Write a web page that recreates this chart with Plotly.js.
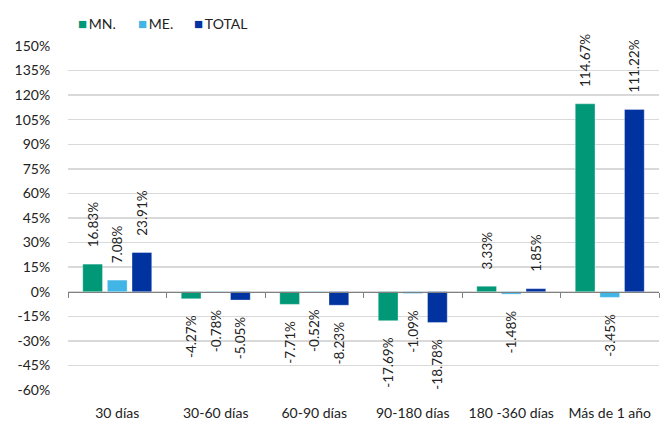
<!DOCTYPE html>
<html>
<head>
<meta charset="utf-8">
<script src="https://cdn.plot.ly/plotly-3.0.1.min.js"></script>
<style>html,body{margin:0;padding:0;background:#fff;}#chart{width:665px;height:425px;}</style>
</head>
<body>
<div id="chart"></div>
<script>
const categories = ["30 días", "30-60 días", "60-90 días", "90-180 días", "180 -360 días", "Más de 1 año"];
const seriesNames = ["MN.", "ME.", "TOTAL"];
const mn = [16.83, -4.27, -7.71, -17.69, 3.33, 114.67];
const me = [7.08, -0.78, -0.52, -1.09, -1.48, -3.45];
const total = [23.91, -5.05, -8.23, -18.78, 1.85, 111.22];
const yTicks = [-60, -45, -30, -15, 0, 15, 30, 45, 60, 75, 90, 105, 120, 135, 150];
const colors = ["#009877", "#41b6e6", "#0033a0"];

const pad = "\u00a0\u00a0\u00a0\u00a0";
function labels(vals) {
  return vals.map(v => v >= 0 ? pad + v.toFixed(2) + "%" : v.toFixed(2) + "%" + pad);
}

const FONT = "Lato, 'Open Sans', sans-serif";
const traces = [mn, me, total].map((vals, i) => ({
  type: "bar",
  name: seriesNames[i],
  x: categories,
  y: vals,
  marker: {color: colors[i], line: {color: "rgba(255,255,255,0.6)", width: 0.5}},
  text: labels(vals),
  textposition: "outside",
  textangle: -90,
  constraintext: "none",
  cliponaxis: false,
  textfont: {family: FONT, size: 13.5, color: "#222"},
  hoverinfo: "skip",
  showlegend: false
}));
traces.push({type: "scatter", x: [], y: [], xaxis: "x2", showlegend: false, hoverinfo: "skip"});

const boundaries = categories.map((c, i) => i - 0.5).concat([categories.length - 0.5]);

// custom legend (positions in paper fractions of the plot area)
const legendX = [76, 136, 192].map(px => (px - 68) / 591);
const legendAnn = seriesNames.map((n, i) => ({
  xref: "paper", yref: "paper", x: legendX[i], y: 1 + (46 - 23) / 344,
  xanchor: "left", yanchor: "middle", showarrow: false,
  text: '<span style="color:' + colors[i] + ';font-size:15px">\u25A0</span>\u2009' + n,
  font: {family: FONT, size: 14, color: "#222"}
}));

const layout = {
  width: 665, height: 425,
  margin: {l: 68, r: 6, t: 46, b: 35},
  paper_bgcolor: "#fff", plot_bgcolor: "#fff",
  font: {family: FONT, size: 13, color: "#222"},
  barmode: "group",
  bargap: 0.25,
  bargroupgap: 0.2,
  showlegend: false,
  annotations: legendAnn,
  xaxis: {type: "category", range: [-0.5, 5.5], showline: false, showgrid: false, zeroline: false,
          ticks: "outside", ticklen: 10, tickcolor: "rgba(0,0,0,0)",
          tickfont: {family: FONT, size: 14, color: "#222"}},
  xaxis2: {overlaying: "x", anchor: "free", position: 60 / 210, type: "linear", range: [-0.5, 5.5],
           tickmode: "array", tickvals: boundaries, ticks: "outside", ticklen: 5, tickcolor: "#808080",
           showline: true, linecolor: "#808080", linewidth: 1, showgrid: false, zeroline: false,
           showticklabels: false},
  yaxis: {range: [-60, 150], tickmode: "array", tickvals: yTicks, ticktext: yTicks.map(v => v + "%"),
          showgrid: true, gridcolor: "#d9d9d9", gridwidth: 1.5, zeroline: false, showline: false,
          ticks: "outside", ticklen: 14, tickcolor: "rgba(0,0,0,0)",
          tickfont: {family: FONT, size: 14, color: "#222"}}
};

Plotly.newPlot("chart", traces, layout, {displayModeBar: false, staticPlot: true});
</script>
</body>
</html>
